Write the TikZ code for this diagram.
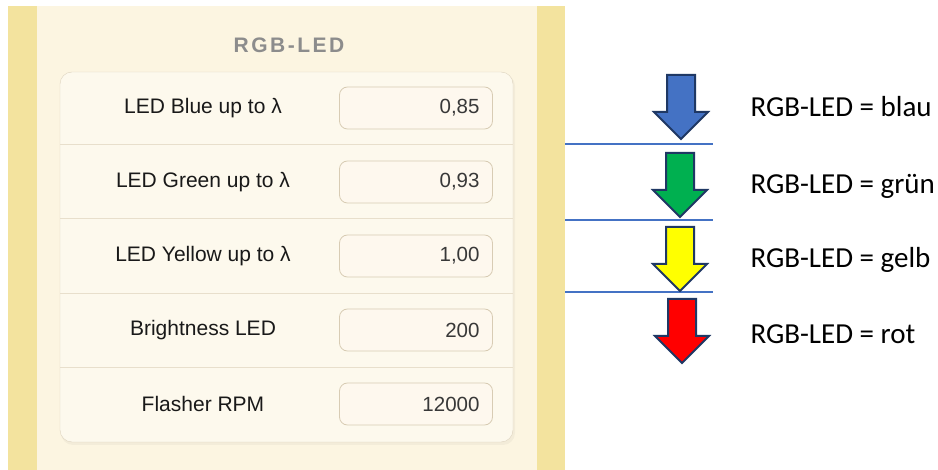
\documentclass[tikz,border=0pt]{standalone}
\usepackage{fontspec}
\usepackage{xcolor}
\setmainfont{Liberation Sans}
\newfontfamily\calibri{Carlito}
\definecolor{streifen}{HTML}{F3E39E}
\definecolor{creme}{HTML}{FCF5E1}
\definecolor{kartenrand}{HTML}{DDD3BF}
\definecolor{trenner}{HTML}{E8DFCC}
\definecolor{feldrand}{HTML}{D8CCB4}
\definecolor{feldfill}{HTML}{FEF8EE}
\definecolor{linieblau}{HTML}{4472C4}
\definecolor{pfeilrand}{HTML}{1F3864}
\definecolor{ledblau}{HTML}{4472C4}
\definecolor{ledgruen}{HTML}{00B050}
\definecolor{ledgelb}{HTML}{FFFF00}
\definecolor{ledrot}{HTML}{FF0000}

\tikzset{
    rowlabel/.style={font=\fontsize{21}{25}\selectfont, text=black!90},
    valbox/.style={draw=feldrand, fill=feldfill, line width=0.8pt, rounded corners=8pt,
        text width=127pt, align=right, inner xsep=13pt, minimum height=42pt,
        font=\fontsize{20.5}{24}\selectfont, text=black!78},
    ledtext/.style={font=\calibri\fontsize{29}{33}\selectfont, anchor=west},
    ledarrow/.pic={
        \filldraw[draw=pfeilrand, line width=2pt, line join=miter]
            (-14,0) -- (14,0) -- (14,37) -- (27,37) -- (0,64) -- (-27,37) -- (-14,37) -- cycle;
    }
}

\begin{document}
\begin{tikzpicture}[x=1pt, y=-1pt]
    \useasboundingbox (0,0) rectangle (938,470);
    \fill[white] (0,0) rectangle (938,470);
    \fill[streifen] (8,6) rectangle (565,470);
    \fill[creme] (37,6) rectangle (537,470);
    \node[font=\bfseries\fontsize{21}{25}\selectfont\addfontfeature{LetterSpace=12}, text=black!45] (titel) at (289,45) {RGB-LED};
    \fill[black, opacity=0.035, rounded corners=12pt] (61,74) rectangle (515,445);
    \draw[kartenrand, fill=creme!60!white, rounded corners=12pt] (60,72) rectangle (513,442);
    \foreach \y in {145,219,294,368}
        \draw[trenner, line width=1pt] (60,\y) -- (513,\y);
    \foreach \lab/\val [count=\i] in {LED Blue up to λ/{0,85}, LED Green up to λ/{0,93},
            LED Yellow up to λ/{1,00}, Brightness LED/200, Flasher RPM/12000} {
        \node[rowlabel] (lab\i) at (203,34+74*\i) {\lab};
        \node[valbox] (val\i) at (416,34+74*\i) {\val};
    }
    \foreach \y in {144,220,292}
        \draw[draw=linieblau, line width=1.2pt] (565,\y) -- (713,\y);
    \pic[fill=ledblau] at (681,75) {ledarrow};
    \pic[fill=ledgruen] at (680,153) {ledarrow};
    \pic[fill=ledgelb] at (680,227) {ledarrow};
    \pic[fill=ledrot] at (682,299) {ledarrow};
    \node[ledtext] (blau) at (747,107) {RGB-LED = blau};
    \node[ledtext] (gruen) at (747,186) {RGB-LED = grün};
    \node[ledtext] (gelb) at (747,260) {RGB-LED = gelb};
    \node[ledtext] (rot) at (747,334) {RGB-LED = rot};
\end{tikzpicture}
\end{document}
